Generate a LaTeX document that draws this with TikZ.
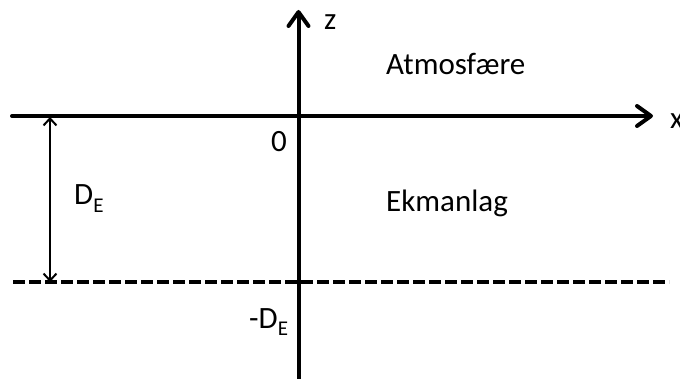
\documentclass[tikz,border=0pt]{standalone}
\usepackage{fontspec}
\setmainfont{Carlito}
\usetikzlibrary{arrows.meta}
\newcommand{\dsub}[1]{{\fontsize{21}{24}\selectfont\raisebox{-7.5pt}{#1}}}
\begin{document}
\begin{tikzpicture}[x=1pt,y=-1pt,
  axis/.style={line width=4pt,line cap=round,-{Straight Barb[length=14pt,width=20pt,round]}},
  dimarrow/.style={line width=2pt,{Straight Barb[length=7pt,width=13pt]}-{Straight Barb[length=7pt,width=13pt]}},
  layerline/.style={line width=4pt,dash pattern=on 12pt off 4pt},
  bigtext/.style={font=\fontsize{31}{36}\selectfont,inner sep=0pt,anchor=base west}]
\useasboundingbox (0,0) rectangle (680,379);
% coordinates
\coordinate (xs) at (12,116);
\coordinate (xe) at (653,116);
\coordinate (zs) at (298.5,381);
\coordinate (ze) at (298.5,10);
\coordinate (ds) at (13,282.5);
\coordinate (de) at (669,282.5);
\coordinate (at) at (50,117);
\coordinate (ab) at (50,282);
% lines
\draw[layerline] (ds) -- (de);
\draw[axis] (xs) -- (xe);
\draw[axis] (zs) -- (ze);
\draw[dimarrow] (at) -- (ab);
% labels
\node[bigtext] (zl) at (324,30) {z};
\node[bigtext] (xl) at (670,129) {x};
\node[bigtext] (atm) at (386,75) {Atmosfære};
\node[bigtext] (ekm) at (386,212) {Ekmanlag};
\node[bigtext] (zero) at (271,152) {0};
\node[bigtext] (de1) at (74,205) {D\dsub{E}};
\node[bigtext] (de2) at (249,328) {-D\dsub{E}};
\end{tikzpicture}
\end{document}
